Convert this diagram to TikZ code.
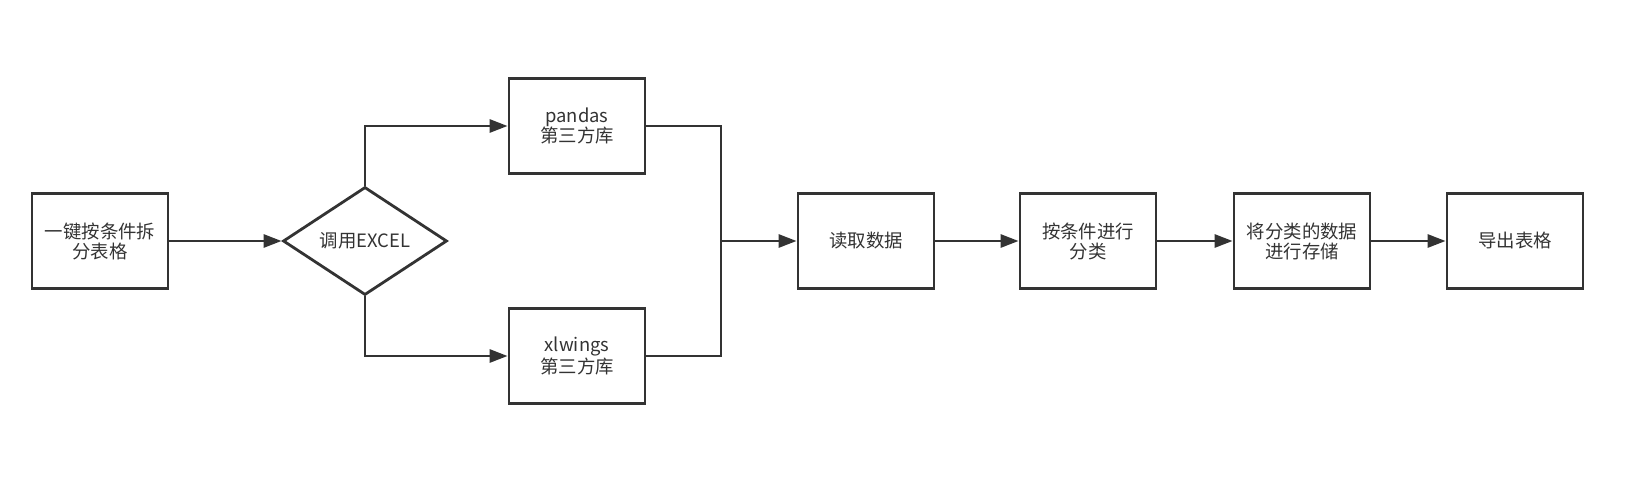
\documentclass[tikz,border=0pt]{standalone}
\usepackage{fontspec}
\setmainfont{Noto Sans CJK SC}
\usetikzlibrary{arrows.meta,shapes.geometric}
\definecolor{ink}{HTML}{333333}
\begin{document}
\begin{tikzpicture}[x=0.5pt,y=-0.5pt,>={Triangle[length=9pt,width=6.5pt]},line join=miter,
	font=\fontsize{9.2pt}{10pt}\selectfont,
	link/.style={draw=ink,line width=1.4pt},
	box/.style={draw=ink,line width=1.4pt,text=ink,align=center,minimum width=68pt,minimum height=47.5pt,inner sep=0pt},
	decide/.style={diamond,draw=ink,line width=1.4pt,text=ink,aspect=1.52,minimum width=82pt,minimum height=54pt,inner sep=0pt}]
	\useasboundingbox (0,0) rectangle (1625,476);
	\node[box] (split) at (100,241) {一键按条件拆\\分表格};
	\node[decide] (excel) at (365,241) {调用EXCEL};
	\node[box] (pandas) at (577,126) {pandas\\第三方库};
	\node[box] (xlwings) at (577,356) {xlwings\\第三方库};
	\coordinate (join) at (721,241);
	\node[box] (read) at (866,241) {读取数据};
	\node[box] (classify) at (1088,241) {按条件进行\\分类};
	\node[box] (store) at (1302,241) {将分类的数据\\进行存储};
	\node[box] (export) at (1515,241) {导出表格};
	\draw[link,->] (split) -- (excel);
	\draw[link,->] (excel.north) |- (pandas.west);
	\draw[link,->] (excel.south) |- (xlwings.west);
	\draw[link] (pandas.east) -| (join) |- (xlwings.east);
	\foreach \a/\b in {join/read,read/classify,classify/store,store/export}\draw[link,->] (\a) -- (\b);
\end{tikzpicture}
\end{document}
